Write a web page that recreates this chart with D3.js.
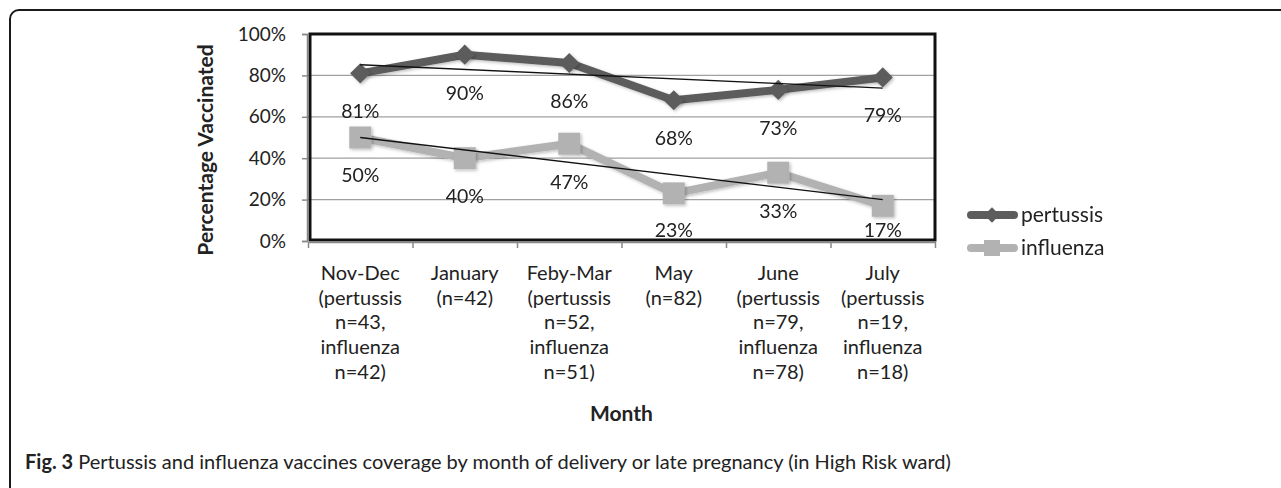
<!DOCTYPE html>
<html><head><meta charset="utf-8">
<script src="https://cdn.jsdelivr.net/npm/d3@7"></script>
<style>body{margin:0;background:#fff}svg{display:block}text{font-family:Lato,"Open Sans",sans-serif}</style>
</head><body><svg id="c" width="1281" height="488"></svg>
<script>
const categories = [
  ["Nov-Dec","(pertussis","n=43,","influenza","n=42)"],
  ["January","(n=42)"],
  ["Feby-Mar","(pertussis","n=52,","influenza","n=51)"],
  ["May","(n=82)"],
  ["June","(pertussis","n=79,","influenza","n=78)"],
  ["July","(pertussis","n=19,","influenza","n=18)"]
];
const pertussis = [81,90,86,68,73,79];
const influenza = [50,40,47,23,33,17];
const yTicks = [0,20,40,60,80,100];
const seriesNames = ["pertussis","influenza"];

const svg = d3.select("#c");
const defs = svg.append("defs");
const f = defs.append("filter").attr("id","sh").attr("x","-50%").attr("y","-50%").attr("width","200%").attr("height","200%");
f.append("feDropShadow").attr("dx",1.5).attr("dy",1.5).attr("stdDeviation",1.5).attr("flood-color","#000").attr("flood-opacity",0.25);

const L=308, R=935, T=34, B=241;
const catKeys = categories.map(c=>c.join(" "));
const x = d3.scaleBand().domain(catKeys).range([L,R]);
const xi = d3.scaleLinear().domain([0,categories.length]).range([L,R]);
const y = d3.scaleLinear().domain([0,100]).range([B,T]);
const cx = i => x(catKeys[i]) + x.bandwidth()/2;

// outer frame (cut at right/bottom)
svg.append("rect").attr("x",10).attr("y",10).attr("width",1400).attr("height",600).attr("rx",9)
  .attr("fill","none").attr("stroke","#1a1a1a").attr("stroke-width",2);

// gridlines
svg.append("g").selectAll("line").data(yTicks.filter(d=>d>0&&d<100)).join("line")
  .attr("x1",L).attr("x2",R).attr("y1",d=>y(d)).attr("y2",d=>y(d))
  .attr("stroke","#a0a0a0").attr("stroke-width",1.2);

// plot border
svg.append("rect").attr("x",L+2).attr("y",T).attr("width",R-L-2).attr("height",B-T-1)
  .attr("fill","none").attr("stroke","#111").attr("stroke-width",3);

// y axis
const ya = svg.append("g").attr("transform",`translate(${L-1},0)`)
  .call(d3.axisLeft(y).tickValues(yTicks).tickFormat(d=>d+"%").tickSize(5).tickPadding(16));
ya.select(".domain").attr("stroke","#888").attr("stroke-width",1.5);
ya.selectAll(".tick line").attr("stroke","#888").attr("stroke-width",1.5);
ya.selectAll(".tick text").attr("font-size",19).attr("fill","#222").style("font-family","Lato");

// x axis
const xa = svg.append("g").attr("transform",`translate(0,${B+1})`)
  .call(d3.axisBottom(xi).tickValues(d3.range(categories.length+1)).tickFormat("").tickSize(6).tickSizeOuter(0));
xa.select(".domain").attr("stroke","#888").attr("stroke-width",1.5);
xa.selectAll(".tick line").attr("stroke","#888").attr("stroke-width",1.5);

// category labels
const cl = svg.append("g").selectAll("text").data(categories).join("text")
  .attr("text-anchor","middle").attr("font-size",20).attr("fill","#222");
cl.each(function(lines,i){
  d3.select(this).selectAll("tspan").data(lines).join("tspan")
    .attr("x",cx(i)).attr("y",(d,j)=>280+j*24.7).text(d=>d);
});

// trend lines (least squares over category index)
function trend(vals){
  const n=vals.length, xs=d3.range(n), mx=d3.mean(xs), my=d3.mean(vals);
  const s=d3.sum(xs,(xx,k)=>(xx-mx)*(vals[k]-my))/d3.sum(xs,xx=>(xx-mx)**2);
  return [[0,my-s*mx],[n-1,my+s*(n-1-mx)]];
}

const colors = ["#5c5c5c","#b2b2b2"];
const data = [pertussis, influenza];
const line = d3.line().x((d,i)=>cx(i)).y(d=>y(d));
data.forEach((vals,si)=>{
  svg.append("path").attr("d",line(vals)).attr("fill","none").attr("filter","url(#sh)")
    .attr("stroke",colors[si]).attr("stroke-width",8).attr("stroke-linejoin","round");
});
data.forEach((vals,si)=>{
  const g = svg.append("g").attr("filter","url(#sh)");
  if(si===0){
    g.selectAll("path").data(vals).join("path")
      .attr("d",d3.symbol(d3.symbolDiamond2,260)).attr("transform",(d,i)=>`translate(${cx(i)},${y(d)})`)
      .attr("fill",colors[si]);
  } else {
    g.selectAll("rect").data(vals).join("rect")
      .attr("x",(d,i)=>cx(i)-11).attr("y",d=>y(d)-11).attr("width",22).attr("height",22)
      .attr("fill",colors[si]);
  }
});
data.forEach((vals,si)=>{
  const t = trend(vals);
  svg.append("line").attr("x1",cx(t[0][0])).attr("y1",y(t[0][1]))
    .attr("x2",cx(t[1][0])).attr("y2",y(t[1][1])).attr("stroke","#111").attr("stroke-width",1.3);
});
// data labels
data.forEach((vals,si)=>{
  svg.append("g").selectAll("text").data(vals).join("text")
    .attr("x",(d,i)=>cx(i)).attr("y",d=>Math.min(y(d)+38,B-11)).attr("dy","0.35em")
    .attr("text-anchor","middle").attr("font-size",19.5).attr("fill","#222").text(d=>d+"%");
});

// legend
const lg = svg.append("g");
seriesNames.forEach((n,si)=>{
  const ly = 215 + si*33;
  lg.append("line").attr("x1",971).attr("x2",1014).attr("y1",ly).attr("y2",ly)
    .attr("stroke",colors[si]).attr("stroke-width",8).attr("stroke-linecap","round");
  if(si===0) lg.append("path").attr("d",d3.symbol(d3.symbolDiamond2,150)).attr("transform",`translate(992,${ly})`).attr("fill",colors[si]);
  else lg.append("rect").attr("x",984).attr("y",ly-8).attr("width",16).attr("height",16).attr("fill",colors[si]);
  lg.append("text").attr("x",1021).attr("y",ly).attr("dy","0.35em").attr("font-size",21).attr("fill","#222").text(n);
});

// axis titles
svg.append("text").attr("transform",`translate(206,150) rotate(-90)`).attr("dy","0.35em")
  .attr("text-anchor","middle").attr("font-size",21).attr("font-weight","bold").attr("fill","#222").text("Percentage Vaccinated");
svg.append("text").attr("x",(L+R)/2).attr("y",414).attr("dy","0.35em")
  .attr("text-anchor","middle").attr("font-size",21).attr("font-weight","bold").attr("fill","#222").text("Month");

// caption
const cap = svg.append("text").attr("x",25).attr("y",462).attr("dy","0.35em").attr("font-size",20).attr("fill","#222");
cap.append("tspan").attr("font-weight","bold").text("Fig. 3");
cap.append("tspan").text(" Pertussis and influenza vaccines coverage by month of delivery or late pregnancy (in High Risk ward)");
</script></body></html>
